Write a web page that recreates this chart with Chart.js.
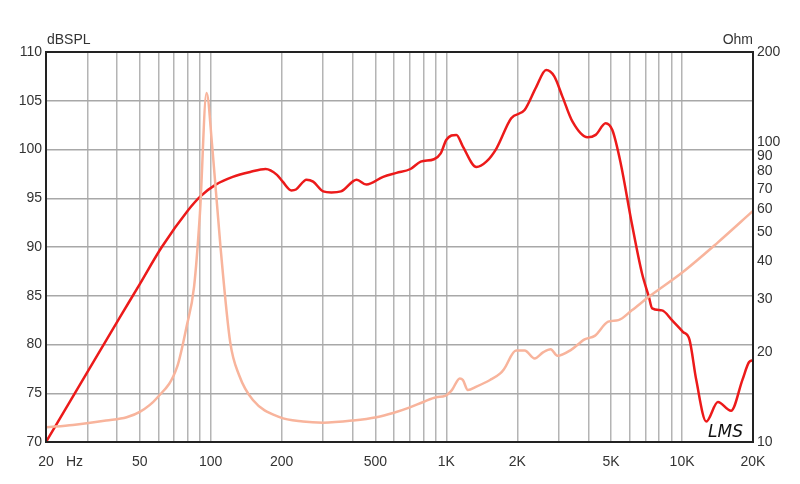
<!DOCTYPE html>
<html>
<head>
<meta charset="utf-8">
<script src="https://cdn.jsdelivr.net/npm/chart.js@4.4.0/dist/chart.umd.min.js"></script>
<style>
  html, body { margin: 0; padding: 0; background: #fff; }
  #wrap { width: 800px; height: 484px; }
</style>
</head>
<body>
<div id="wrap"><canvas id="fr"></canvas></div>
<script>
// SPL response (Hz, dB)
const splFreq = [20, 30, 41.2, 50, 62, 80.3, 90.4, 105, 124, 147, 171, 191, 202, 220, 230, 255, 272, 300, 325, 357, 416, 458, 539, 614, 704, 778, 886, 946, 1000, 1103, 1175, 1341, 1477, 1630, 1884, 2147, 2404, 2650, 2870, 3110, 3430, 3970, 4300, 4740, 5060, 5490, 6122, 6760, 7230, 7470, 8220, 9060, 10080, 10750, 11480, 12670, 14190, 16140, 18050, 19250, 20000];
const splDb = [70, 77.2, 82.8, 86.2, 90, 93.8, 95.2, 96.4, 97.2, 97.7, 98.0, 97.4, 96.7, 95.8, 95.9, 96.9, 96.7, 95.7, 95.6, 95.7, 96.9, 96.4, 97.2, 97.6, 98.0, 98.75, 99.0, 99.6, 101.0, 101.5, 100.3, 98.2, 98.75, 100.1, 103.2, 104.05, 106.4, 108.15, 107.5, 105.4, 102.85, 101.25, 101.5, 102.7, 102.0, 98.6, 92.4, 87.3, 84.9, 83.7, 83.5, 82.5, 81.3, 80.5, 76.4, 72.1, 74.1, 73.2, 76.4, 78.2, 78.4];

// impedance (Hz, Ohm)
const impFreq = [20, 26, 36, 44, 50, 59, 72, 79, 85, 90, 96, 101.5, 110, 121, 132, 151, 196, 246, 300, 403, 505, 594, 700, 798, 905, 987, 1055, 1140, 1175, 1233, 1341, 1532, 1688, 1755, 1976, 2148, 2370, 2570, 2770, 2960, 3380, 3860, 4260, 4860, 5370, 6120, 7230, 10080, 14050, 20000];
const impOhm = [11.2, 11.4, 11.8, 12.1, 12.6, 14.0, 17.8, 24.3, 33, 58, 146, 96.6, 44.8, 21.5, 16.7, 13.8, 12.1, 11.7, 11.6, 11.8, 12.1, 12.5, 13.05, 13.6, 14.1, 14.25, 14.9, 16.3, 16.1, 14.9, 15.3, 16.1, 16.9, 17.5, 20.2, 20.2, 19.0, 19.9, 20.4, 19.4, 20.3, 22.0, 22.6, 25.2, 25.5, 27.5, 30.5, 36.9, 46.0, 59.0];

// axes
const freqGrid = [20, 30, 40, 50, 60, 70, 80, 90, 100, 200, 300, 400, 500, 600, 700, 800, 900, 1000, 2000, 3000, 4000, 5000, 6000, 7000, 8000, 9000, 10000, 20000];
const freqLabels = { 20: '20', 50: '50', 100: '100', 200: '200', 500: '500', 1000: '1K', 2000: '2K', 5000: '5K', 10000: '10K', 20000: '20K' };
const ohmTicks = [10, 20, 30, 40, 50, 60, 70, 80, 90, 100, 200];

const font = { family: "'Liberation Sans', Arial, sans-serif", size: 14 };

const extraText = {
  id: 'extraText',
  afterDraw(chart) {
    const ctx = chart.ctx;
    const a = chart.chartArea;
    ctx.save();
    ctx.strokeStyle = '#222';
    ctx.lineWidth = 2;
    ctx.strokeRect(a.left, a.top, a.right - a.left, a.bottom - a.top);
    ctx.fillStyle = '#333';
    ctx.font = "14px 'Liberation Sans', Arial, sans-serif";
    ctx.textBaseline = 'middle';
    ctx.textAlign = 'left';
    ctx.fillText('dBSPL', 47, 40);
    ctx.fillText('Hz', 66, 462);
    ctx.textAlign = 'right';
    ctx.fillText('Ohm', 753, 40);
    ctx.fillStyle = '#111';
    ctx.font = "italic 17px 'DejaVu Sans', sans-serif";
    ctx.textAlign = 'left';
    ctx.textBaseline = 'alphabetic';
    ctx.fillText('LMS', 708, 437);
    ctx.restore();
  }
};

new Chart(document.getElementById('fr').getContext('2d'), {
  type: 'line',
  data: {
    datasets: [
      {
        label: 'Impedance',
        data: impFreq.map((f, i) => ({ x: f, y: impOhm[i] })),
        yAxisID: 'y1',
        borderColor: '#f8b49c',
        borderWidth: 2.5,
        pointRadius: 0,
        cubicInterpolationMode: 'monotone'
      },
      {
        label: 'SPL',
        data: splFreq.map((f, i) => ({ x: f, y: splDb[i] })),
        yAxisID: 'y',
        borderColor: '#ec1a1a',
        borderWidth: 2.5,
        pointRadius: 0,
        cubicInterpolationMode: 'monotone'
      }
    ]
  },
  options: {
    responsive: true,
    maintainAspectRatio: false,
    animation: false,
    layout: { padding: { top: 52, left: 0, right: 0, bottom: 0 } },
    plugins: {
      legend: { display: false },
      tooltip: { enabled: false }
    },
    scales: {
      x: {
        type: 'logarithmic',
        min: 20,
        max: 20000,
        afterBuildTicks: s => { s.ticks = freqGrid.map(v => ({ value: v })); },
        afterFit: s => { s.height = 42; },
        ticks: {
          autoSkip: false,
          maxRotation: 0,
          color: '#333',
          font: font,
          padding: 12,
          callback: v => freqLabels[v] || ''
        },
        grid: { color: '#b4b4b4', lineWidth: 1.5, drawTicks: false },
        border: { display: false }
      },
      y: {
        position: 'left',
        min: 70,
        max: 110,
        afterFit: s => { s.width = 46; },
        ticks: { stepSize: 5, color: '#333', font: font, padding: 4 },
        grid: { color: '#a8a8a8', lineWidth: 1.5, drawTicks: false },
        border: { display: false }
      },
      y1: {
        type: 'logarithmic',
        position: 'right',
        min: 10,
        max: 200,
        afterBuildTicks: s => { s.ticks = ohmTicks.map(v => ({ value: v })); },
        afterFit: s => { s.width = 47; },
        ticks: { autoSkip: false, color: '#333', font: font, padding: 4, callback: v => String(v) },
        grid: { display: false, drawTicks: false },
        border: { display: false }
      }
    }
  },
  plugins: [extraText]
});
</script>
</body>
</html>
